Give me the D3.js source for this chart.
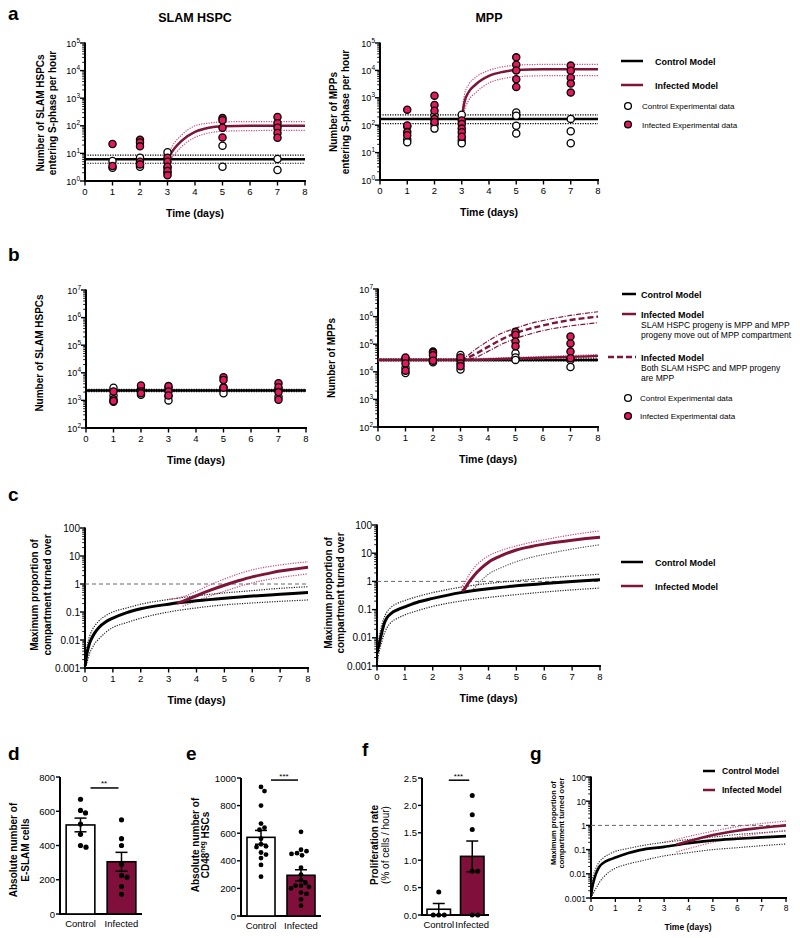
<!DOCTYPE html>
<html><head><meta charset="utf-8">
<script src="https://cdn.jsdelivr.net/npm/d3@7"></script>
<style>body{margin:0;background:#fff}svg{font-family:"Liberation Sans",Arial,Helvetica,sans-serif;display:block}</style>
</head><body><svg id="chart" width="800" height="938"></svg>
<script>
// ================= DATA =================
const dayTicks = [0,1,2,3,4,5,6,7,8];
const sampleDays = [1,2,3,5,7];
const supTicks5 = [1,10,100,1e3,1e4,1e5];
const supTicks7 = [1e2,1e3,1e4,1e5,1e6,1e7];
const propTicks = [0.001,0.01,0.1,1,10,100];
const propTickLabels = ['0.001','0.01','0.1','1','10','100'];

// panel a - SLAM HSPC (per sample day)
const aHspcCtrlPts = [[5.3,3.0],[7,4,3.3],[11,3,2],[19,3.3],[6.3,2.5]];
const aHspcInfPts  = [[22,3.5],[31,25,18,5,4],[7,5,3.3,2.3,1.6],[190,160,85,38],[210,125,85,55,37]];
const aHspcCtrlT = [0,8], aHspcCtrlMid = [6.2,6.2], aHspcCtrlHi = [8.6,8.6], aHspcCtrlLo = [4.4,4.4];
const aHspcInfT = [3,3.25,3.5,4,4.5,5,6,7,8];
const aHspcInfMid = [6.2,15,28,60,85,96,100,100,100];
const aHspcInfHi  = [8.6,24,45,100,125,138,142,142,142];
const aHspcInfLo  = [4.4,9,17,38,55,63,67,68,68];

// panel a - MPP
const aMppCtrlPts = [[90,30,24],[230,107,75],[240,28,22],[290,220,95,50],[170,60,22]];
const aMppInfPts  = [[370,98,56,43],[1200,550,340,170,130],[150,110,75,55,38],[30000,16000,10000,4800,2500],[15000,9700,5400,3300,1550]];
const aMppCtrlT = [0,8], aMppCtrlMid = [170,170], aMppCtrlHi = [240,240], aMppCtrlLo = [115,115];
const aMppInfT = [3,3.1,3.25,3.5,4,4.5,5,6,7,8];
const aMppInfMid = [170,700,1600,3000,6300,8800,10300,11000,11000,11000];
const aMppInfHi  = [240,1300,3000,5500,10000,13500,15500,16500,16500,16500];
const aMppInfLo  = [115,350,800,1500,3500,5000,5900,6400,6500,6500];

// panel b - SLAM HSPC numbers
const bHspcCtrlPts = [[2900,1500,900],[2600,1600],[2800,1400,1000],[3000,1800],[2500,1350]];
const bHspcInfPts  = [[2100,1100,950],[3500,2100,1800],[3300,2100,1500],[6900,5500,2900],[4200,3000,2000,1050]];
const bHspcT = [0,8], bHspcMid = [2300,2300], bHspcHi = [2500,2500], bHspcLo = [2120,2120];

// panel b - MPP numbers
const bMppCtrlPts = [[30000,14000,9000],[27000,22000],[41000,27000,12000],[47000,33000,27000],[27000,15000]];
const bMppInfPts  = [[33000,20000,11000],[54000,48000,40000,25000],[33000,20000,16000],[280000,215000,124000,85000],[190000,107000,54000,31000]];
const bMppCtrlT = [0,8], bMppCtrlMid = [27000,27000], bMppCtrlHi = [29000,29000], bMppCtrlLo = [25000,25000];
const bMppInfAT = [0,3,4,5,6,7,8];
const bMppInfAMid = [27000,27000,28500,30500,32500,35000,37500];
const bMppInfAHi  = [29000,29000,31000,33500,36000,39000,42000];
const bMppInfALo  = [25000,25000,26500,28000,29500,31500,33500];
const bMppInfBT = [3,3.25,3.5,4,4.5,5,5.5,6,7,8];
const bMppInfBMid = [27000,32000,42000,80000,150000,250000,360000,480000,750000,1000000];
const bMppInfBHi  = [27000,38000,60000,130000,250000,380000,550000,720000,1100000,1500000];
const bMppInfBLo  = [27000,28000,32000,55000,100000,160000,230000,310000,460000,600000];

// panel c / g - turnover
const turnT = [0.01,0.03,0.06,0.1,0.17,0.25,0.35,0.5,0.75,1,1.5,2,3,4,5,6,7,8];
const cLCtrlMid = [0.0012,0.0018,0.003,0.0045,0.008,0.012,0.018,0.028,0.045,0.06,0.095,0.13,0.19,0.25,0.31,0.37,0.43,0.5];
const cLCtrlHi  = [0.0015,0.003,0.005,0.008,0.014,0.022,0.032,0.048,0.075,0.1,0.14,0.19,0.28,0.38,0.48,0.58,0.7,0.8];
const cLCtrlLo  = [0.001,0.0012,0.0015,0.002,0.0035,0.005,0.0075,0.011,0.019,0.028,0.042,0.06,0.1,0.14,0.18,0.21,0.24,0.27];
const cLInfT = [3.3,3.5,4,4.5,5,5.5,6,6.5,7,7.5,8];
const cLInfMid = [0.21,0.24,0.38,0.6,0.9,1.3,1.8,2.3,2.9,3.4,4.0];
const cLInfHiT = [3,3.5,4,4.5,5,5.5,6,7,8];
const cLInfHi  = [0.28,0.35,0.55,0.95,1.5,2.3,3.2,4.8,6.2];
const cLInfLoT = [3.5,4,4.5,5,5.5,6,7,8];
const cLInfLo  = [0.16,0.25,0.38,0.55,0.8,1.1,1.7,2.3];

const cRCtrlMid = [0.003,0.004,0.005,0.0075,0.015,0.03,0.05,0.072,0.1,0.125,0.19,0.25,0.4,0.55,0.7,0.85,1.0,1.15];
const cRCtrlHi  = [0.005,0.007,0.009,0.014,0.028,0.05,0.08,0.12,0.17,0.21,0.3,0.4,0.62,0.85,1.05,1.3,1.55,1.8];
const cRCtrlLo  = [0.0012,0.0018,0.0026,0.004,0.007,0.013,0.022,0.035,0.05,0.065,0.095,0.13,0.2,0.27,0.34,0.42,0.5,0.58];
const cRInfT = [3.05,3.15,3.25,3.5,3.75,4,4.5,5,5.5,6,6.5,7,7.5,8];
const cRInfMid = [0.45,0.55,0.8,1.7,3,4.8,8.5,13,17,21,25,29,33,37];
const cRInfHiT = [3,3.15,3.3,3.5,3.75,4,4.5,5,5.5,6,7,8];
const cRInfHi  = [0.6,0.9,1.7,3.2,5.5,8,13,18,24,30,45,62];
const cRInfLoT = [3.4,3.5,3.75,4,4.5,5,5.5,6,7,8];
const cRInfLo  = [0.45,0.6,1.1,1.8,3.2,5,7,9,14,20];

const gCtrlMid = [0.0013,0.002,0.003,0.0045,0.008,0.013,0.02,0.028,0.038,0.047,0.07,0.095,0.13,0.185,0.24,0.28,0.32,0.36];
const gCtrlHi  = [0.0025,0.004,0.006,0.009,0.014,0.022,0.032,0.045,0.065,0.085,0.11,0.14,0.2,0.26,0.33,0.42,0.5,0.6];
const gCtrlLo  = [0.001,0.0011,0.0013,0.0016,0.0022,0.003,0.0045,0.007,0.012,0.017,0.025,0.033,0.055,0.075,0.1,0.12,0.145,0.17];
const gInfT = [3.5,4,4.5,5,5.5,6,6.5,7,7.5,8];
const gInfMid = [0.16,0.22,0.3,0.4,0.5,0.6,0.7,0.8,0.9,1.0];
const gInfHiT = [3,3.5,4,4.5,5,5.5,6,6.5,7,7.5,8];
const gInfHi  = [0.2,0.26,0.35,0.45,0.58,0.72,0.9,1.05,1.2,1.35,1.5];
const gInfLoT = [3.5,4,4.5,5,5.5,6,6.5,7,7.5,8];
const gInfLo  = [0.08,0.11,0.15,0.2,0.26,0.33,0.4,0.47,0.53,0.6];

// bar panels
const groups = ['Control','Infected'];
const dCtrl = [670,605,590,525,465,400,390];
const dInf  = [550,440,400,290,225,215,160,115];
const dMean = [520,305], dSem = [40,55], dTicks = [0,200,400,600,800];
const eCtrl = [935,905,800,670,640,625,560,520,505,500,460,445,420,370,285];
const eInf  = [610,480,470,455,450,440,350,300,260,240,220,220,210,200,170,160,120,75];
const eMean = [570,295], eSem = [50,40], eTicks = [0,200,400,600,800,1000];
const fCtrl = [0.42,0,0,0];
const fInf  = [2.18,1.83,1.56,0.8,0.8,0,0];
const fMean = [0.105,1.07], fSem = [0.105,0.28], fTicks = [0,0.5,1.0,1.5,2.0,2.5];
const sigLevels = [736,985,2.46];
const sigLabels = ['**','***','***'];

// ================= DRAWING =================
const svg = d3.select('#chart');
const MAROON = '#7e1436', PINK = '#c94a7e', RED = '#e3195f', BARFILL = '#800f3c', GREY = '#666';

function text(g,x,y,s,o={}){
  const t = g.append('text').attr('x',x).attr('y',y).attr('font-size',o.size||9.5)
    .attr('text-anchor',o.anchor||'start').attr('fill','#000').text(s);
  if(o.bold) t.attr('font-weight','bold');
  return t;
}
function vtext(g,x,y,s,o={}){
  const t = g.append('text').attr('transform',`translate(${x},${y}) rotate(-90)`)
    .attr('font-size',o.size||10).attr('text-anchor','middle').attr('fill','#000').text(s);
  if(o.bold!==false) t.attr('font-weight','bold');
  return t;
}
function logYAxis(g,y,x0,ticks,labelFn,fs){
  const d = y.domain();
  g.append('line').attr('x1',x0).attr('x2',x0).attr('y1',y(d[0])+1).attr('y2',y(d[1])-0.5)
    .attr('stroke','#000').attr('stroke-width',2);
  ticks.forEach((tv,i)=>{
    g.append('line').attr('x1',x0-5).attr('x2',x0).attr('y1',y(tv)).attr('y2',y(tv)).attr('stroke','#000').attr('stroke-width',1.4);
    if(i<ticks.length-1){
      for(let m=2;m<10;m++){
        g.append('line').attr('x1',x0-2.8).attr('x2',x0).attr('y1',y(tv*m)).attr('y2',y(tv*m)).attr('stroke','#000').attr('stroke-width',0.9);
      }
    }
    const t = g.append('text').attr('x',x0-5).attr('y',y(tv)+3.5).attr('text-anchor','end').attr('font-size',fs).attr('fill','#000');
    labelFn(t,tv,i);
  });
}
const supLabel = (t,v)=>{ t.append('tspan').text('10'); t.append('tspan').text(Math.round(Math.log10(v))).attr('dy',-4).attr('font-size',6.5); };
const decLabel = (t,v,i)=>{ t.text(propTickLabels[i]); };

function dayAxis(g,x,y0,fs){
  g.append('line').attr('x1',x(0)-1).attr('x2',x(8)+1).attr('y1',y0).attr('y2',y0).attr('stroke','#000').attr('stroke-width',2);
  dayTicks.forEach(d=>{
    g.append('line').attr('x1',x(d)).attr('x2',x(d)).attr('y1',y0).attr('y2',y0+4.5).attr('stroke','#000').attr('stroke-width',1.4);
    text(g,x(d),y0+13.5,String(d),{size:fs,anchor:'middle'});
  });
}
function pathOf(g,x,y,ts,vs,stroke,w,dash){
  const line = d3.line().x(d=>x(d[0])).y(d=>y(d[1])).curve(d3.curveMonotoneX);
  const p = g.append('path').attr('d',line(ts.map((t,i)=>[t,vs[i]]))).attr('fill','none')
    .attr('stroke',stroke).attr('stroke-width',w).attr('stroke-linecap','butt');
  if(dash) p.attr('stroke-dasharray',dash);
  return p;
}
const DOT = '1.2,1.3';
function points(g,x,y,pts,fill){
  sampleDays.forEach((d,i)=>{
    pts[i].forEach(v=>{
      g.append('circle').attr('cx',x(d)).attr('cy',y(v)).attr('r',3.6)
        .attr('fill',fill).attr('stroke','#000').attr('stroke-width',1.3);
    });
  });
}
function logPanel(o){
  const g = svg.append('g');
  const x = d3.scaleLinear().domain([0,8]).range([o.x0,o.x1]);
  const y = d3.scaleLog().domain(o.dom).range([o.yb,o.yt]);
  logYAxis(g,y,o.x0,o.ticks,o.labelFn,o.tfs||9);
  dayAxis(g,x,o.yb,9.5);
  text(g,(o.x0+o.x1)/2,o.yb+36,'Time (days)',{size:10.5,bold:true,anchor:'middle'});
  o.ylab.forEach((s,i)=>vtext(g,o.ylx[i],o.ylc,s,{size:10}));
  return {g,x,y};
}

// panel letters
[['a',8,20],['b',8,261],['c',8,501],['d',8,760],['e',186,760],['f',362,756],['g',530,760]].forEach(l=>{
  text(svg,l[1],l[2],l[0],{size:19,bold:true});
});
text(svg,195,22,'SLAM HSPC',{size:12.5,bold:true,anchor:'middle'});
text(svg,489,22,'MPP',{size:12.5,bold:true,anchor:'middle'});

// ---- a left
{
  const {g,x,y} = logPanel({x0:85,x1:305,yt:43,yb:181,dom:[1,1e5],ticks:supTicks5,labelFn:supLabel,
    ylab:['Number of SLAM HSPCs','entering S-phase per hour'],ylx:[44,56],ylc:113});
  pathOf(g,x,y,aHspcCtrlT,aHspcCtrlHi,'#000',1.2,DOT);
  pathOf(g,x,y,aHspcCtrlT,aHspcCtrlLo,'#000',1.2,DOT);
  pathOf(g,x,y,aHspcCtrlT,aHspcCtrlMid,'#000',2.5);
  pathOf(g,x,y,aHspcInfT,aHspcInfHi,PINK,1.2,DOT);
  pathOf(g,x,y,aHspcInfT,aHspcInfLo,PINK,1.2,DOT);
  pathOf(g,x,y,aHspcInfT,aHspcInfMid,MAROON,2.5);
  points(g,x,y,aHspcCtrlPts,'#fff');
  points(g,x,y,aHspcInfPts,RED);
}
// ---- a right
{
  const {g,x,y} = logPanel({x0:380,x1:598,yt:43,yb:180,dom:[1,1e5],ticks:supTicks5,labelFn:supLabel,
    ylab:['Number of MPPs','entering S-phase per hour'],ylx:[337,349],ylc:112});
  pathOf(g,x,y,aMppCtrlT,aMppCtrlHi,'#000',1.2,DOT);
  pathOf(g,x,y,aMppCtrlT,aMppCtrlLo,'#000',1.2,DOT);
  pathOf(g,x,y,aMppCtrlT,aMppCtrlMid,'#000',2.5);
  pathOf(g,x,y,aMppInfT,aMppInfHi,PINK,1.2,DOT);
  pathOf(g,x,y,aMppInfT,aMppInfLo,PINK,1.2,DOT);
  pathOf(g,x,y,aMppInfT,aMppInfMid,MAROON,2.5);
  points(g,x,y,aMppCtrlPts,'#fff');
  points(g,x,y,aMppInfPts,RED);
}
// legend a
{
  const g = svg.append('g');
  g.append('line').attr('x1',621).attr('x2',643).attr('y1',61).attr('y2',61).attr('stroke','#000').attr('stroke-width',2.5);
  text(g,655,64.5,'Control Model',{size:9,bold:true});
  g.append('line').attr('x1',621).attr('x2',643).attr('y1',85).attr('y2',85).attr('stroke',MAROON).attr('stroke-width',2.5);
  text(g,655,88.5,'Infected Model',{size:9,bold:true});
  g.append('circle').attr('cx',628).attr('cy',106).attr('r',3.4).attr('fill','#fff').attr('stroke','#000').attr('stroke-width',1.3);
  text(g,642,109,'Control Experimental data',{size:8});
  g.append('circle').attr('cx',628).attr('cy',124.5).attr('r',3.4).attr('fill',RED).attr('stroke','#000').attr('stroke-width',1.3);
  text(g,642,127.5,'Infected Experimental data',{size:8});
}
// ---- b left
{
  const {g,x,y} = logPanel({x0:86,x1:306,yt:290,yb:428,dom:[1e2,1e7],ticks:supTicks7,labelFn:supLabel,
    ylab:['Number of SLAM HSPCs'],ylx:[43],ylc:353});
  pathOf(g,x,y,bHspcT,bHspcHi,'#000',1.5,DOT);
  pathOf(g,x,y,bHspcT,bHspcLo,'#000',1.5,DOT);
  pathOf(g,x,y,bHspcT,bHspcMid,'#000',2.5);
  points(g,x,y,bHspcCtrlPts,'#fff');
  points(g,x,y,bHspcInfPts,RED);
}
// ---- b right
{
  const {g,x,y} = logPanel({x0:378,x1:598,yt:289,yb:427,dom:[1e2,1e7],ticks:supTicks7,labelFn:supLabel,
    ylab:['Number of MPPs'],ylx:[335],ylc:358});
  pathOf(g,x,y,bMppCtrlT,bMppCtrlHi,'#000',1.5,DOT);
  pathOf(g,x,y,bMppCtrlT,bMppCtrlLo,'#000',1.5,DOT);
  pathOf(g,x,y,bMppCtrlT,bMppCtrlMid,'#000',2.5);
  pathOf(g,x,y,bMppInfAT,bMppInfAHi,PINK,1.2,DOT);
  pathOf(g,x,y,bMppInfAT,bMppInfALo,PINK,1.2,DOT);
  pathOf(g,x,y,bMppInfAT,bMppInfAMid,MAROON,2.2);
  pathOf(g,x,y,bMppInfBT,bMppInfBHi,MAROON,1.2,'5,1.5,1,1.5');
  pathOf(g,x,y,bMppInfBT,bMppInfBLo,MAROON,1.2,'5,1.5,1,1.5');
  pathOf(g,x,y,bMppInfBT,bMppInfBMid,MAROON,2.4,'6,3');
  points(g,x,y,bMppCtrlPts,'#fff');
  points(g,x,y,bMppInfPts,RED);
}
// legend b
{
  const g = svg.append('g');
  g.append('line').attr('x1',622).attr('x2',636).attr('y1',294).attr('y2',294).attr('stroke','#000').attr('stroke-width',2.5);
  text(g,641,297.5,'Control  Model',{size:9,bold:true});
  g.append('line').attr('x1',622).attr('x2',636).attr('y1',314).attr('y2',314).attr('stroke',MAROON).attr('stroke-width',2.5);
  text(g,641,317.5,'Infected Model',{size:9,bold:true});
  text(g,641,327.5,'SLAM HSPC progeny is MPP and MPP',{size:8.5});
  text(g,641,337.5,'progeny move out of MPP compartment',{size:8.5});
  g.append('line').attr('x1',608).attr('x2',636).attr('y1',357).attr('y2',357).attr('stroke',MAROON).attr('stroke-width',2.5).attr('stroke-dasharray','6,3');
  text(g,641,360.5,'Infected Model',{size:9,bold:true});
  text(g,641,371,'Both SLAM HSPC and MPP progeny',{size:8.5});
  text(g,641,381,'are MPP',{size:8.5});
  g.append('circle').attr('cx',628).attr('cy',398).attr('r',3.4).attr('fill','#fff').attr('stroke','#000').attr('stroke-width',1.3);
  text(g,640,401,'Control Experimental data',{size:8});
  g.append('circle').attr('cx',628).attr('cy',416).attr('r',3.4).attr('fill',RED).attr('stroke','#000').attr('stroke-width',1.3);
  text(g,640,419,'Infected Experimental data',{size:8});
}
// ---- c panels
function turnPanel(o,ctrl,inf){
  const {g,x,y} = logPanel(o);
  g.append('line').attr('x1',x(0)).attr('x2',x(8)).attr('y1',y(1)).attr('y2',y(1)).attr('stroke',GREY).attr('stroke-width',1).attr('stroke-dasharray','4,3');
  pathOf(g,x,y,turnT,ctrl[1],'#222',1.2,DOT);
  pathOf(g,x,y,turnT,ctrl[2],'#222',1.2,DOT);
  pathOf(g,x,y,inf[2],inf[3],PINK,1.2,DOT);
  pathOf(g,x,y,inf[4],inf[5],inf[6]||PINK,1.2,DOT);
  pathOf(g,x,y,turnT,ctrl[0],'#000',o.w||3);
  pathOf(g,x,y,inf[0],inf[1],MAROON,o.w||3);
  return {g,x,y};
}
turnPanel({x0:85,x1:308,yt:528,yb:668,dom:[0.001,100],ticks:propTicks,labelFn:decLabel,tfs:10,
  ylab:['Maximum proportion of','compartment turned over'],ylx:[38,51],ylc:595},
  [cLCtrlMid,cLCtrlHi,cLCtrlLo],[cLInfT,cLInfMid,cLInfHiT,cLInfHi,cLInfLoT,cLInfLo]);
turnPanel({x0:377,x1:600,yt:525,yb:666,dom:[0.001,100],ticks:propTicks,labelFn:decLabel,tfs:10,
  ylab:['Maximum proportion of','compartment turned over'],ylx:[332,344],ylc:593},
  [cRCtrlMid,cRCtrlHi,cRCtrlLo],[cRInfT,cRInfMid,cRInfHiT,cRInfHi,cRInfLoT,cRInfLo,'#555']);
// legend c
{
  const g = svg.append('g');
  g.append('line').attr('x1',621).attr('x2',643).attr('y1',562).attr('y2',562).attr('stroke','#000').attr('stroke-width',2.5);
  text(g,655,565.5,'Control Model',{size:9,bold:true});
  g.append('line').attr('x1',621).attr('x2',643).attr('y1',586).attr('y2',586).attr('stroke',MAROON).attr('stroke-width',2.5);
  text(g,655,589.5,'Infected Model',{size:9,bold:true});
}
// ---- g panel
{
  const g = svg.append('g');
  const x = d3.scaleLinear().domain([0,8]).range([591,786]);
  const y = d3.scaleLog().domain([0.001,100]).range([898,777]);
  logYAxis(g,y,591,propTicks,decLabel,8.5);
  g.append('line').attr('x1',590).attr('x2',787).attr('y1',898).attr('y2',898).attr('stroke','#000').attr('stroke-width',2);
  dayTicks.forEach(d=>{
    g.append('line').attr('x1',x(d)).attr('x2',x(d)).attr('y1',898).attr('y2',902).attr('stroke','#000').attr('stroke-width',1.3);
    text(g,x(d),910.5,String(d),{size:8.5,anchor:'middle'});
  });
  text(g,688,930,'Time (days)',{size:8.5,bold:true,anchor:'middle'});
  vtext(g,556,823,'Maximum proportion of',{size:7.5});
  vtext(g,564,823,'compartment turned over',{size:7.5});
  g.append('line').attr('x1',x(0)).attr('x2',x(8)).attr('y1',y(1)).attr('y2',y(1)).attr('stroke',GREY).attr('stroke-width',1).attr('stroke-dasharray','4,3');
  pathOf(g,x,y,turnT,gCtrlHi,'#222',1.1,DOT);
  pathOf(g,x,y,turnT,gCtrlLo,'#222',1.1,DOT);
  pathOf(g,x,y,gInfHiT,gInfHi,PINK,1.1,DOT);
  pathOf(g,x,y,gInfLoT,gInfLo,PINK,1.1,DOT);
  pathOf(g,x,y,turnT,gCtrlMid,'#000',2.6);
  pathOf(g,x,y,gInfT,gInfMid,MAROON,2.6);
  g.append('line').attr('x1',703).attr('x2',715).attr('y1',771).attr('y2',771).attr('stroke','#000').attr('stroke-width',2.5);
  text(g,722,774,'Control Model',{size:8.5,bold:true});
  g.append('line').attr('x1',703).attr('x2',715).attr('y1',790).attr('y2',790).attr('stroke',MAROON).attr('stroke-width',2.5);
  text(g,722,793,'Infected Model',{size:8.5,bold:true});
}
// ---- bar panels
function swarm(vals,y,cx,r){
  const placed=[], out=[];
  vals.forEach(v=>{
    const yy=y(v); let best=cx;
    for(let k=0;k<60;k++){
      const off=Math.ceil(k/2)*0.5*(k%2?1:-1);
      const xx=cx+off;
      if(placed.every(p=>Math.hypot(p[0]-xx,p[1]-yy)>=2*r+0.4)){best=xx;break;}
    }
    placed.push([best,yy]); out.push([best,yy]);
  });
  return out;
}
function barPanel(o){
  const g = svg.append('g');
  const x = d3.scaleBand().domain(groups).range([o.x0,o.x1]).paddingInner(0.3).paddingOuter(0.15);
  const y = d3.scaleLinear().domain([0,o.ticks[o.ticks.length-1]]).range([o.yb,o.yt]);
  const bw = x.bandwidth();
  g.append('line').attr('x1',o.x0).attr('x2',o.x0).attr('y1',o.yb+1).attr('y2',o.yt).attr('stroke','#000').attr('stroke-width',2);
  g.append('line').attr('x1',o.x0-1).attr('x2',o.x1).attr('y1',o.yb).attr('y2',o.yb).attr('stroke','#000').attr('stroke-width',2);
  o.ticks.forEach(t=>{
    g.append('line').attr('x1',o.x0-4).attr('x2',o.x0).attr('y1',y(t)).attr('y2',y(t)).attr('stroke','#000').attr('stroke-width',1.4);
    text(g,o.x0-5,y(t)+3.5,o.fmt(t),{size:9.5,anchor:'end'});
  });
  groups.forEach((gr,i)=>{
    const cx = x(gr)+bw/2;
    g.append('rect').attr('x',x(gr)).attr('y',y(o.mean[i])).attr('width',bw).attr('height',y(0)-y(o.mean[i]))
      .attr('fill',i?BARFILL:'#fff').attr('stroke','#000').attr('stroke-width',1.6);
    text(g,cx,o.yb+13,gr,{size:9.5,anchor:'middle'});
  });
  groups.forEach((gr,i)=>{
    const cx = x(gr)+bw/2;
    swarm(o.vals[i],y,cx,o.r).forEach(p=>g.append('circle').attr('cx',p[0]).attr('cy',p[1]).attr('r',o.r).attr('fill','#000'));
    const lo=y(o.mean[i]-o.sem[i]), hi=y(o.mean[i]+o.sem[i]);
    g.append('line').attr('x1',cx).attr('x2',cx).attr('y1',lo).attr('y2',hi).attr('stroke','#000').attr('stroke-width',1.5);
    [lo,hi].forEach(yy=>g.append('line').attr('x1',cx-6).attr('x2',cx+6).attr('y1',yy).attr('y2',yy).attr('stroke','#000').attr('stroke-width',1.5));
  });
  const c0 = x(groups[0])+bw/2, c1 = x(groups[1])+bw/2;
  const ys = y(o.sig);
  g.append('line').attr('x1',c0+10).attr('x2',c1-3).attr('y1',ys).attr('y2',ys).attr('stroke','#000').attr('stroke-width',1.5);
  text(g,(c0+c1)/2+3,ys-1.5,o.sigLab,{size:8,anchor:'middle'});
  o.ylab.forEach((s,i)=>vtext(g,o.ylx[i],o.ylc,s,{size:10,bold:o.ybold[i]}));
}
barPanel({x0:60,x1:142,yt:777,yb:914,ticks:dTicks,fmt:d3.format('d'),vals:[dCtrl,dInf],mean:dMean,sem:dSem,r:2.6,
  sig:sigLevels[0],sigLab:sigLabels[0],ylab:['Absolute number of','E-SLAM cells'],ylx:[17,29],ylc:850,ybold:[true,true]});
barPanel({x0:241,x1:321,yt:778,yb:916,ticks:eTicks,fmt:d3.format('d'),vals:[eCtrl,eInf],mean:eMean,sem:eSem,r:2.4,
  sig:sigLevels[1],sigLab:sigLabels[1],ylab:['Absolute number of',''],ylx:[199,209],ylc:845,ybold:[true,true]});
{
  // CD48neg label with superscript
  const t = svg.append('text').attr('transform','translate(209,845) rotate(-90)').attr('font-size',10).attr('font-weight','bold').attr('text-anchor','middle');
  t.append('tspan').text('CD48');
  t.append('tspan').text('neg').attr('font-size',6.5).attr('dy',-4);
  t.append('tspan').text(' HSCs').attr('dy',4);
}
barPanel({x0:422,x1:489,yt:778,yb:915,ticks:fTicks,fmt:d3.format('.1f'),vals:[fCtrl,fInf],mean:fMean,sem:fSem,r:2.5,
  sig:sigLevels[2],sigLab:sigLabels[2],ylab:['Proliferation rate','(% of cells / hour)'],ylx:[378,389],ylc:845,ybold:[true,false]});
</script></body></html>
